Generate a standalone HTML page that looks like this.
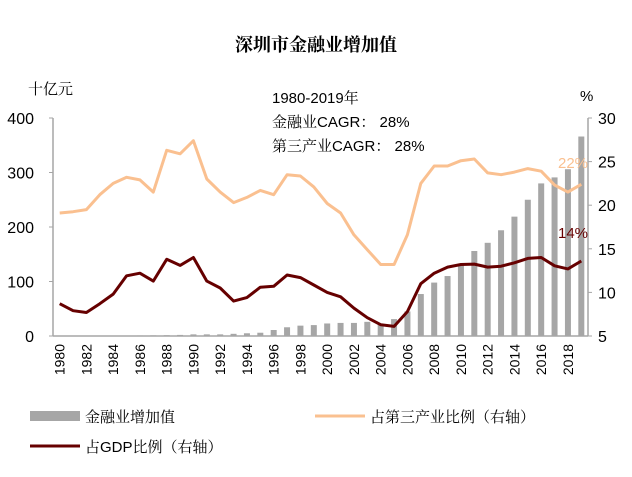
<!DOCTYPE html>
<html><head><meta charset="utf-8"><style>
body{margin:0;background:#fff;}
svg{display:block;font-family:"Liberation Sans","Noto Serif CJK SC",serif;}
</style></head><body>
<svg id="c" width="632" height="477"></svg>
<script>
const years=[];for(let y=1980;y<=2019;y++)years.push(String(y));
const finance=[0.3,0.3,0.4,0.5,0.6,0.8,1,1.2,1.5,2,3,3,3,4,5,6,11,16,19,20,23,24,24,26,22,31,45,77,98,110,130,156,171,194,219,250,280,291,306,366];
const tertiaryShare=[19.1,19.25,19.5,21.2,22.5,23.2,22.9,21.5,26.3,25.9,27.4,23.0,21.5,20.3,20.9,21.7,21.2,23.5,23.35,22.1,20.2,19.1,16.6,14.9,13.2,13.2,16.6,22.5,24.5,24.5,25.1,25.3,23.7,23.5,23.8,24.2,23.9,22.3,21.5,22.4];
const gdpShare=[8.7,7.9,7.7,8.7,9.8,11.9,12.2,11.3,13.8,13.1,14.0,11.3,10.5,9.0,9.4,10.6,10.7,12.0,11.7,10.85,10.0,9.5,8.2,7.1,6.3,6.1,7.8,11.0,12.2,12.9,13.2,13.25,12.9,13.0,13.4,13.9,14.0,13.05,12.7,13.6];
const leftTicks=[0,100,200,300,400];
const rightTicks=[5,10,15,20,25,30];
const xLabels=years.filter((y,i)=>i%2===0);

const NS="http://www.w3.org/2000/svg",svg=document.getElementById('c');
const X0=53,X1=588,YB=336,YT=118;
const bw=(X1-X0)/years.length;
const xc=i=>X0+bw*(i+0.5);
const yL=v=>YB-(v/400)*(YB-YT);
const yR=v=>YB-((v-5)/25)*(YB-YT);
function el(t,a,txt){const e=document.createElementNS(NS,t);for(const k in a)e.setAttribute(k,a[k]);if(txt!==undefined)e.textContent=txt;svg.appendChild(e);return e;}

let e;
e=el('text',{x:316,y:51,'text-anchor':'middle','font-size':18,'font-weight':'bold',fill:'#000'},'深圳市金融业增加值');

e=el('text',{x:28,y:94,'font-size':15,fill:'#000'},'十亿元');

e=el('text',{x:580,y:101,'font-size':15,fill:'#000'},'%');


finance.forEach((v,i)=>{const b=el('rect',{x:xc(i)-3,y:yL(v),width:6,height:YB-yL(v),fill:'#a6a6a6'});

});

e=el('line',{x1:X0,y1:YT,x2:X0,y2:YB,stroke:'#a6a6a6','stroke-width':1.5});

e=el('line',{x1:X1,y1:YT,x2:X1,y2:YB,stroke:'#a6a6a6','stroke-width':1.5});

e=el('line',{x1:X0,y1:YB,x2:X1,y2:YB,stroke:'#a6a6a6','stroke-width':1.5});


leftTicks.forEach(v=>{el('line',{x1:X0-4,y1:yL(v),x2:X0,y2:yL(v),stroke:'#a6a6a6'});
const t=el('text',{x:34,y:yL(v)+6,'text-anchor':'end','font-size':16,fill:'#000'},String(v));

});
rightTicks.forEach(v=>{el('line',{x1:X1,y1:yR(v),x2:X1+4,y2:yR(v),stroke:'#a6a6a6'});
const t=el('text',{x:598,y:yR(v)+6,'font-size':16,fill:'#000'},String(v));

});
xLabels.forEach(lab=>{const i=years.indexOf(lab);const x=xc(i)+5;
const t=el('text',{x:x,y:344,'text-anchor':'end','font-size':14,fill:'#000',transform:`rotate(-90 ${x} 344)`},lab);

});

function line(arr,col,name){const d=arr.map((v,i)=>(i?'L':'M')+xc(i).toFixed(1)+','+yR(v).toFixed(1)).join('');
const p=el('path',{d:d,fill:'none',stroke:col,'stroke-width':3,'stroke-linejoin':'round'});

}
line(tertiaryShare,'#fac090','tertiary-share-line');
line(gdpShare,'#660000','gdp-share-line');

e=el('text',{x:558,y:168,'font-size':15,fill:'#fac090'},'22%');

e=el('text',{x:558,y:238,'font-size':15,fill:'#660000'},'14%');


['1980-2019年','金融业CAGR：  28%','第三产业CAGR：  28%'].forEach((s,k)=>{
const t=el('text',{x:272,y:103+k*24,'font-size':15,fill:'#000'},s);

});

e=el('rect',{x:30,y:411,width:50,height:10,fill:'#a6a6a6'});

e=el('text',{x:85,y:422,'font-size':15,fill:'#000'},'金融业增加值');

e=el('line',{x1:315,y1:416,x2:365,y2:416,stroke:'#fac090','stroke-width':3});

e=el('text',{x:370,y:422,'font-size':15,fill:'#000'},'占第三产业比例（右轴）');

e=el('line',{x1:30,y1:446,x2:80,y2:446,stroke:'#660000','stroke-width':3});

e=el('text',{x:85,y:452,'font-size':15,fill:'#000'},'占GDP比例（右轴）');

</script>
</body></html>
